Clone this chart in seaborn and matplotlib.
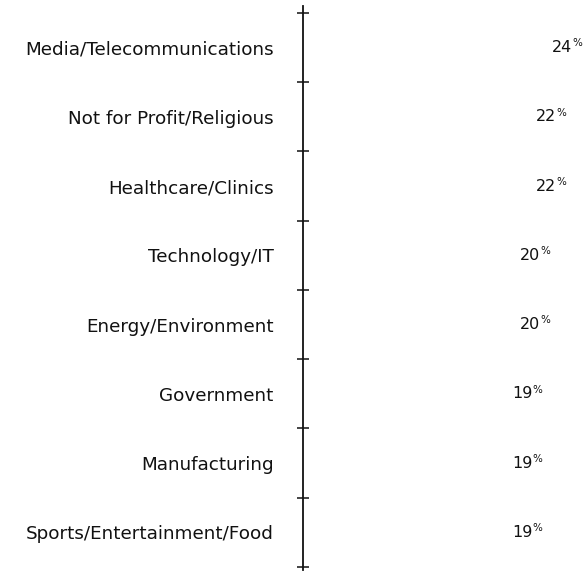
import pandas as pd
import matplotlib
matplotlib.use("Agg")
import matplotlib.pyplot as plt
import seaborn as sns

# data
categories = ["Media/Telecommunications", "Not for Profit/Religious", "Healthcare/Clinics",
              "Technology/IT", "Energy/Environment", "Government", "Manufacturing",
              "Sports/Entertainment/Food"]
percentages = [24, 22, 22, 20, 20, 19, 19, 19]

datos = pd.DataFrame({"sector": categories, "pct": percentages})

sns.set_style("white")
plt.rcParams["font.family"] = ["DejaVu Sans"]

fig = plt.figure(figsize=(5.86, 5.71), dpi=100)
ax = fig.add_axes([303 / 586, 0.001, 283 / 586, 0.9885])

# bars are white in the original, only the labels show
sns.barplot(data=datos, x="pct", y="sector", color="white", ax=ax, width=0.6)

ax.set_xlim(0, 35.4)
ax.set_ylim(7.55, -0.6)

for i, v in enumerate(percentages):
    ax.annotate(str(v), (v, i), xytext=(41, 0), textcoords="offset points",
                ha="left", va="center", fontsize=11.5, color="#111111")
    ax.annotate("%", (v, i), xytext=(55.5, 3), textcoords="offset points",
                ha="left", va="center", fontsize=7.5, color="#111111")

for s in ["top", "right", "bottom"]:
    ax.spines[s].set_visible(False)
ax.spines["left"].set_linewidth(1.3)
ax.spines["left"].set_color("#111111")

ax.set_xticks([])
ax.set_xlabel("")
ax.set_ylabel("")
ax.set_yticks(range(len(categories)))
ax.set_yticklabels(categories, fontsize=13.2, color="#111111")
ax.set_yticks([i - 0.5 for i in range(len(categories) + 1)], minor=True)
ax.tick_params(axis="y", which="major", length=0, pad=21)
ax.tick_params(axis="y", which="minor", left=True, direction="inout",
               length=8, width=1.1, color="#111111")

fig.savefig("out.png", dpi=100, facecolor="white")
